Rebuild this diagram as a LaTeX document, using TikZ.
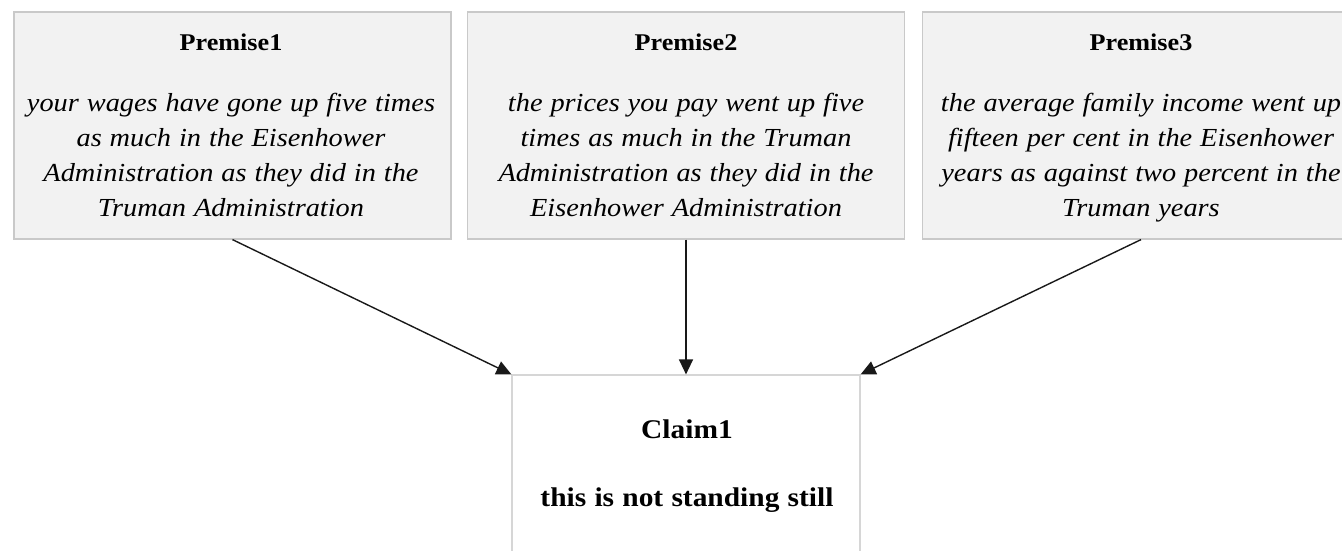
\documentclass[tikz,border=0pt]{standalone}
\usepackage{fontspec}
\setmainfont{Liberation Serif}[FakeStretch=1.09, WordSpace=1.12]
\usetikzlibrary{arrows.meta}

\definecolor{boxfill}{HTML}{F2F2F2}
\definecolor{boxline}{HTML}{C9C9C9}
\definecolor{claimline}{HTML}{D6D6D6}

\tikzset{
  premise/.style={draw=boxline, line width=1.2pt, fill=boxfill,
    minimum width=437pt, minimum height=227pt, inner sep=0pt},
  claimbox/.style={draw=claimline, line width=1.2pt, fill=white,
    minimum width=348pt, minimum height=190pt, inner sep=0pt},
  ptitle/.style={anchor=base, inner sep=0pt,
    font=\fontsize{24}{28}\selectfont\bfseries},
  pbody/.style={anchor=north, inner sep=0pt, align=center,
    font=\fontsize{26}{35}\selectfont\itshape},
  ctext/.style={anchor=base, inner sep=0pt,
    font=\fontsize{27}{32}\selectfont\bfseries},
  link/.style={draw=black!90, line width=1.4pt,
    -{Triangle[length=15pt,width=14pt]}},
}

\begin{document}
\begin{tikzpicture}[x=1pt,y=-1pt]
  \useasboundingbox (0,0) rectangle (1342,550);

  % premise boxes
  \node[premise] (p1) at (232.5,125.5) {};
  \node[premise] (p2) at (686,125.5) {};
  \node[premise] (p3) at (1141,125.5) {};

  % premise texts
  \node[ptitle] (t1) at (231,50) {Premise1};
  \node[pbody]  (b1) at (231,86.5) {\strut your wages have gone up five times\\ as much in the Eisenhower\\ Administration as they did in the\\ Truman Administration};
  \node[ptitle] (t2) at (686,50) {Premise2};
  \node[pbody]  (b2) at (686,86.5) {\strut the prices you pay went up five\\ times as much in the Truman\\ Administration as they did in the\\ Eisenhower Administration};
  \node[ptitle] (t3) at (1141,50) {Premise3};
  \node[pbody]  (b3) at (1141,86.5) {\strut the average family income went up\\ fifteen per cent in the Eisenhower\\ years as against two percent in the\\ Truman years};

  % claim box
  \node[claimbox] (c1) at (686,470) {};
  \node[ctext] (ct) at (687,438) {Claim1};
  \node[ctext] (cb) at (687,506) {this is not standing still};

  % support links
  \draw[link] (p1.south) -- (c1.north west);
  \draw[link] (p2.south) -- (c1.north);
  \draw[link] (p3.south) -- (c1.north east);
\end{tikzpicture}
\end{document}
